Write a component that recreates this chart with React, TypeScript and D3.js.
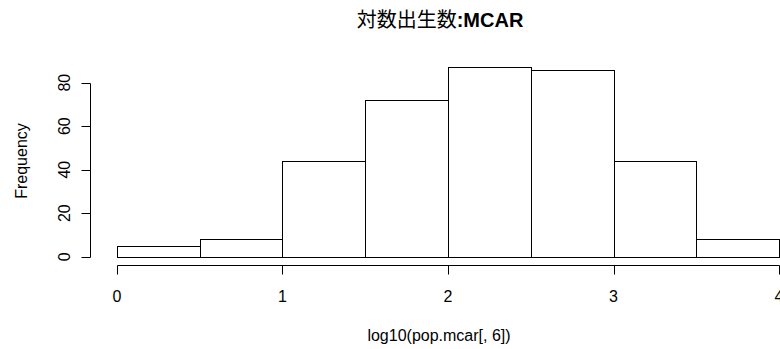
import React from "react";
import * as d3 from "d3";

// histogram of log10(pop.mcar[, 6]), bins of width 0.5
const binStarts = [0, 0.5, 1, 1.5, 2, 2.5, 3, 3.5];
const binWidth = 0.5;
const counts = [5, 8, 44, 72, 87, 86, 44, 8];
const xTicks = [0, 1, 2, 3, 4];
const yTicks = [0, 20, 40, 60, 80];

const W = 780;
const H = 349;
const font = "'Liberation Sans', Arial, sans-serif";

const App = () => {
  // R style usr ranges (4% padding on each side)
  const x = d3.scaleLinear().domain([-0.16, 4.16]).range([90.5, 805.5]);
  const y = d3.scaleLinear().domain([-3.48, 90.48]).range([264.3, 59.9]);

  const axisY = 265.5;
  const axisX = 90.5;
  const tick = 9;
  const px = (v: number) => Math.round(v) + 0.5;

  return (
    <>
      <style>{"body{margin:0}"}</style>
      <svg width={W} height={H} style={{ display: "block", background: "#fff" }}>
        {/* bars */}
        <g>
          {binStarts.map((b, i) => {
            const x0 = px(x(b));
            const x1 = px(x(b + binWidth));
            const y0 = px(y(0));
            const y1 = px(y(counts[i]));
            return (
              <rect
                key={i}
                x={x0}
                y={y1}
                width={x1 - x0}
                height={y0 - y1}
                fill="#fff"
                stroke="#000"
                strokeWidth={1}
              />
            );
          })}
        </g>

        {/* x axis */}
        <g fontFamily={font} fontSize={16} fill="#000">
          <line
            x1={px(x(xTicks[0]))}
            x2={px(x(xTicks[xTicks.length - 1]))}
            y1={axisY}
            y2={axisY}
            stroke="#000"
          />
          {xTicks.map((t) => (
            <g key={t}>
              <line x1={px(x(t))} x2={px(x(t))} y1={axisY} y2={axisY + tick} stroke="#000" />
              <text x={x(t)} y={301.5} textAnchor="middle">
                {t}
              </text>
            </g>
          ))}
        </g>

        {/* y axis */}
        <g fontFamily={font} fontSize={16} fill="#000">
          <line
            x1={axisX}
            x2={axisX}
            y1={px(y(yTicks[0]))}
            y2={px(y(yTicks[yTicks.length - 1]))}
            stroke="#000"
          />
          {yTicks.map((t) => (
            <g key={t}>
              <line x1={axisX - tick} x2={axisX} y1={px(y(t))} y2={px(y(t))} stroke="#000" />
              <text
                transform={`translate(69.5, ${y(t)}) rotate(-90)`}
                textAnchor="middle"
              >
                {t}
              </text>
            </g>
          ))}
        </g>

        {/* labels */}
        <text
          x={440}
          y={27}
          textAnchor="middle"
          fontFamily={`${font}, 'Noto Sans CJK JP'`}
          fontSize={20}
          fill="#000"
        >
          <tspan fontFamily="'Noto Sans CJK JP'" fontWeight="normal">
            対数出生数
          </tspan>
          <tspan fontWeight="bold">:MCAR</tspan>
        </text>
        <text x={439} y={341} textAnchor="middle" fontFamily={font} fontSize={16} fill="#000">
          log10(pop.mcar[, 6])
        </text>
        <text
          transform="translate(26.5, 161) rotate(-90)"
          textAnchor="middle"
          fontFamily={font}
          fontSize={16}
          fill="#000"
        >
          Frequency
        </text>
      </svg>
    </>
  );
};

export default App;
